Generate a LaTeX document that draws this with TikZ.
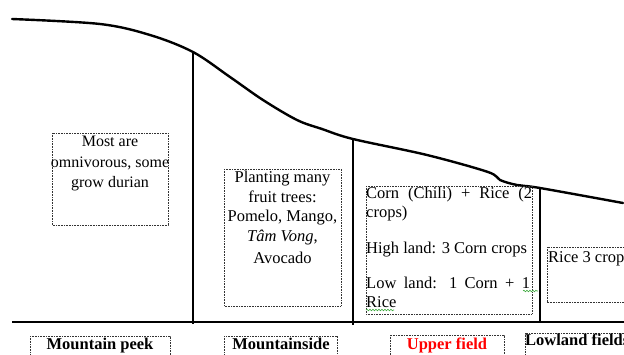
\documentclass[tikz,border=0pt]{standalone}
\usepackage{fontspec}
\setmainfont{Liberation Serif}
\usetikzlibrary{decorations.pathmorphing}
\definecolor{squig}{RGB}{60,170,60}
\tikzset{
  dotbox/.style={draw=black!80, line width=0.8pt, dash pattern=on 0.8pt off 0.8pt},
  txt/.style={inner sep=0pt, anchor=base, font=\fontsize{16.5}{20}\selectfont},
  txts/.style={txt, font=\fontsize{16}{20}\selectfont},
  txtl/.style={txt, anchor=base west},
  lbl/.style={inner sep=0pt, anchor=base, font=\fontsize{16.5}{20}\selectfont\bfseries},
  divider/.style={line width=1.3pt},
  ground/.style={line width=2.6pt},
  slope/.style={line width=2.4pt, line cap=round, line join=round},
  spell/.style={draw=squig, line width=0.6pt, decorate, decoration={snake, amplitude=0.8pt, segment length=3pt}}
}
\begin{document}
\begin{tikzpicture}[x=1pt,y=-1pt]
\useasboundingbox (0,0) rectangle (624,354);
\clip (0,0) rectangle (624,354);
% slope profile
\draw[slope] plot[smooth, tension=0.55] coordinates {(12,19) (100,24) (150,35) (193,52) (230,77) (263,100) (297,120) (322,129) (353,139) (427,155) (488,172) (500,180) (517,185) (540,188) (623,203)};
% ground line and dividers
\coordinate (g0) at (12,322);
\coordinate (g1) at (624,322);
\draw[ground] (g0) -- (g1);
\coordinate (d1t) at (193,52);  \coordinate (d1b) at (193,324);
\coordinate (d2t) at (353,139); \coordinate (d2b) at (353,325);
\coordinate (d3t) at (540,188); \coordinate (d3b) at (540,322);
\draw[divider] (d1t) -- (d1b);
\draw[divider] (d2t) -- (d2b);
\draw[divider] (d3t) -- (d3b);
% box 1
\draw[dotbox] (52,133) rectangle (168,225);
\node[txts] (a1) at (110,146) {Most are};
\node[txts] (a2) at (110,167) {omnivorous, some};
\node[txts] (a3) at (110,187) {grow durian};
% box 2
\draw[dotbox] (224,169) rectangle (341,306);
\node[txt] (b1) at (282.5,182) {Planting many};
\node[txt] (b2) at (282.5,202) {fruit trees:};
\node[txt] (b3) at (282.5,221) {Pomelo, Mango,};
\node[txt] (b4) at (282.5,241) {\textit{Tâm Vong},};
\node[txt] (b5) at (282.5,263) {Avocado};
% box 3
\draw[dotbox] (366,186) rectangle (532,314);
\node[txtl] (c1) at (366,198) {\makebox[166pt][s]{Corn (Chili) + Rice (2}};
\node[txtl] (c2) at (366,217) {crops)};
\node[txtl] (c3) at (366,253) {High land: 3 Corn crops};
\node[txtl] (c4) at (366,288) {\makebox[164pt][s]{Low land: 1 Corn + 1}};
\node[txtl] (c5) at (366,307) {Rice};
\draw[spell] (366,310) -- (394,310);
\draw[spell] (523,291) -- (538,291);
% box 4
\draw[dotbox] (547,247) rectangle (640,302);
\node[txtl] (e1) at (548,262) {Rice 3 crops};
% labels
\draw[dotbox] (30,336) rectangle (170,370);
\node[lbl] (l1) at (100,349) {Mountain peek};
\draw[dotbox] (224,336) rectangle (337,370);
\node[lbl] (l2) at (281,349) {Mountainside};
\draw[dotbox] (390,335) rectangle (504,370);
\node[lbl, text=red] (l3) at (447,349) {Upper field};
\draw[dotbox] (525,333) rectangle (640,370);
\node[lbl, anchor=base west] (l4) at (525,345) {Lowland fields};
\end{tikzpicture}
\end{document}
